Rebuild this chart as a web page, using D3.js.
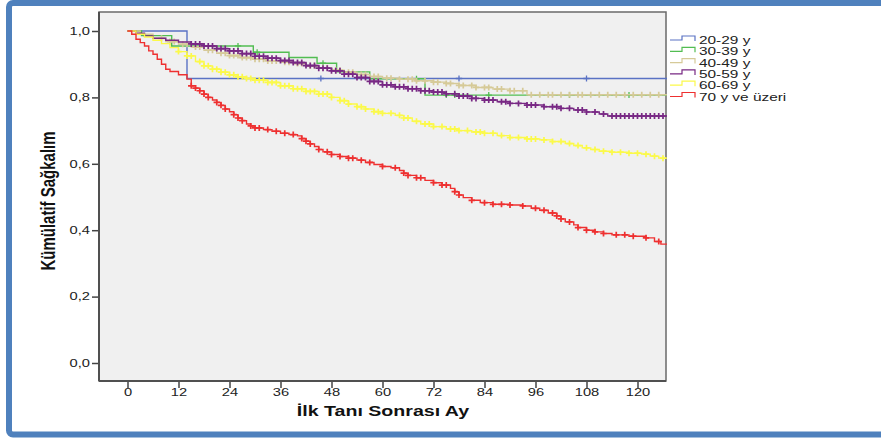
<!DOCTYPE html>
<html><head><meta charset="utf-8">
<script src="https://cdn.jsdelivr.net/npm/d3@7"></script>
<style>
html,body{margin:0;padding:0;background:#fff;}
text{font-family:"Liberation Sans",Arial,sans-serif;fill:#222;}
</style></head>
<body>
<svg id="chart" width="881" height="439"></svg>
<script>
// ---------- DATA ----------
const seriesNames = ["20-29 y","30-39 y","40-49 y","50-59 y","60-69 y","70 y ve üzeri"];
const seriesColors = ["#5a72c4","#52bd52","#d6ca98","#782884","#fbf94a","#ee3030"];
const xTicks = [0,12,24,36,48,60,72,84,96,108,120];
const yTicks = [0,0.2,0.4,0.6,0.8,1.0];
const endTime = 127;

// step knots: time, survival
const t2029 = [0,14];
const s2029 = [1.0,0.857];
const c2029 = [45.5,78,108];

const t3039 = [0,3.3,10.4,29.6,38,44.6,49.2,57,70];
const s3039 = [1.0,0.986,0.955,0.936,0.92,0.903,0.877,0.856,0.807];
const c3039 = [26,30.5,46,68,75,77,85,104,118];

const t4049 = [0,3,6,9,12,15,18,21,24,27,30,33,36,39,42,45,48,51,54,57,60,64,68,72,75,78,82,86,90,94];
const s4049 = [1.0,0.99,0.978,0.968,0.96,0.952,0.942,0.933,0.926,0.92,0.915,0.91,0.906,0.902,0.895,0.889,0.882,0.876,0.869,0.863,0.858,0.855,0.85,0.846,0.842,0.836,0.83,0.825,0.82,0.808];
const c4049 = [8,10,11,13,14,16,17,19,20,22,23,24,25,26,27,28,29,30,31,32,33,34,35,37,38,40,41,43,44,46,47,49,50,52,53,55,56,58,59,61,62,64,66,67,68,70,72,73,75,76,78,79,81,82,84,85,87,88,90,91,93,95,97,99,100,102,104,106,107,109,111,113,115,117,119,121,123,125];

const t5059 = [0,2,4,6,9,12,15,18,21,24,27,30,33,36,39,42,45,48,51,54,57,60,63,66,69,72,75,78,81,84,87,90,94,98,102,105,108,111,113];
const s5059 = [1.0,0.993,0.985,0.978,0.972,0.967,0.961,0.955,0.947,0.94,0.932,0.924,0.918,0.911,0.905,0.896,0.888,0.88,0.87,0.86,0.848,0.838,0.832,0.826,0.82,0.816,0.811,0.804,0.797,0.792,0.787,0.782,0.777,0.772,0.767,0.762,0.756,0.75,0.744];
const c5059 = [15,16,17,18,19,20,21,22,23,24,25,26,27,28,29,30,31,32,33,34,35,36,37,38,39,40,41,42,43,44,45,46,47,48,49,50,51,52,53,54,55,56,57,58,59,60,61,62,63,64,65,66,67,68,69,70,71,72,73,74,75,77,78,79,80,81,82,84,85,86,88,89,90,92,94,95,96,98,100,101,102,104,106,107,108,110,112,114,115,116,117,118,119,120,121,122,123,124,125,126];

const t6069 = [0,2,4,6,8,10,12,14,16,18,20,22,24,26,28,30,33,36,39,42,45,48,50,52,54,56,58,60,63,65,67,69,72,75,78,81,84,87,90,94,97,100,103,105,107,109,111,114,118,121,123,125];
const s6069 = [1.0,0.99,0.982,0.972,0.962,0.95,0.938,0.925,0.908,0.895,0.885,0.876,0.868,0.862,0.857,0.852,0.845,0.835,0.826,0.818,0.81,0.8,0.79,0.78,0.772,0.765,0.757,0.752,0.746,0.738,0.728,0.72,0.712,0.705,0.7,0.696,0.692,0.685,0.679,0.675,0.672,0.667,0.661,0.655,0.648,0.643,0.638,0.635,0.632,0.629,0.623,0.617];
const c6069 = [12,14,15,17,18,19,20,21,22,23,24,25,26,27,28,29,30,31,32,33,34,35,36,37,38,39,40,41,42,43,44,45,46,47,48,50,51,52,54,55,56,58,59,60,62,64,65,66,68,70,71,72,74,76,77,78,80,82,83,84,86,88,90,92,94,95,96,98,100,102,104,106,108,110,112,114,116,118,120,122,124,126];

const t70 = [0,1,2,3,4,5,6,7,8,9,10,12,14,15,16,17,18,19,20,21,22,23,24,25,26,27,28,29,30,32,34,36,38,40,41,42,43,44,45,46,48,50,52,54,56,58,60,62,64,65,66,68,70,72,74,76,77,78,79,81,83,86,90,93,95,97,99,101,102,103,105,106,108,110,112,114,118,122,124,125.5];
const s70 = [1.0,0.99,0.975,0.965,0.955,0.94,0.93,0.915,0.9,0.885,0.878,0.868,0.855,0.835,0.828,0.82,0.81,0.8,0.792,0.785,0.776,0.765,0.757,0.748,0.738,0.73,0.72,0.714,0.708,0.703,0.698,0.692,0.688,0.684,0.676,0.668,0.66,0.652,0.643,0.636,0.628,0.622,0.617,0.611,0.604,0.598,0.592,0.588,0.58,0.572,0.565,0.558,0.55,0.543,0.536,0.526,0.516,0.506,0.498,0.49,0.483,0.478,0.476,0.473,0.466,0.46,0.452,0.443,0.434,0.425,0.416,0.408,0.4,0.395,0.39,0.386,0.382,0.377,0.366,0.358];
const c70 = [15,16,17,18,19,21,22,23,25,26,27,29,30,31,33,35,37,39,41,42,43,45,47,48,50,52,53,55,57,60,63,65,66,68,69,72,74,75,77,78,81,84,86,88,90,93,96,98,100,101,102,104,106,108,110,112,115,117,119,122,125];

const seriesTimes = [t2029,t3039,t4049,t5059,t6069,t70];
const seriesSurv = [s2029,s3039,s4049,s5059,s6069,s70];
const seriesCens = [c2029,c3039,c4049,c5059,c6069,c70];

// ---------- LAYOUT ----------
const svg = d3.select("#chart");
const plot = {left:99, right:666, top:12, bottom:381};
const x = d3.scaleLinear().domain([0,120]).range([127.5,637.5]);
const y = d3.scaleLinear().domain([0,1]).range([363,31]);
const SX = 1.4; // horizontal stretch of the original picture

// outer blue frame
svg.append("rect").attr("x",9).attr("y",3).attr("width",900).attr("height",431.5)
  .attr("rx",4).attr("fill","none").attr("stroke","#4f81bd").attr("stroke-width",6);

// plot background
svg.append("rect").attr("x",plot.left).attr("y",plot.top)
  .attr("width",plot.right-plot.left).attr("height",plot.bottom-plot.top)
  .attr("fill","#f0f0f0").attr("stroke","#6a6a6a").attr("stroke-width",1.5);

// axes
const fmt = d => d3.format(".1f")(d).replace(".",",");
const yAxis = svg.append("g").attr("transform",`translate(${plot.left},0)`)
  .call(d3.axisLeft(y).tickValues(yTicks).tickSize(7).tickFormat(fmt));
yAxis.select(".domain").remove();
yAxis.selectAll(".tick line").attr("stroke","#444").attr("stroke-width",1.5);
yAxis.selectAll(".tick text").attr("x",-9/SX).attr("transform",`scale(${SX},1)`)
  .style("font-size","10.5px").style("fill","#222").style("font-family","'Liberation Sans',Arial,sans-serif");

const xAxis = svg.append("g").attr("transform",`translate(0,${plot.bottom})`)
  .call(d3.axisBottom(x).tickValues(xTicks).tickSize(7).tickFormat(d3.format("d")));
xAxis.select(".domain").remove();
xAxis.selectAll(".tick line").attr("stroke","#444").attr("stroke-width",1.5);
xAxis.selectAll(".tick text").attr("y",8).attr("transform",`scale(${SX},1)`)
  .style("font-size","10.5px").style("fill","#222").style("font-family","'Liberation Sans',Arial,sans-serif");

// left & bottom frame edges darker
svg.append("line").attr("x1",plot.left).attr("x2",plot.left).attr("y1",plot.top).attr("y2",plot.bottom)
  .attr("stroke","#505050").attr("stroke-width",2);
svg.append("line").attr("x1",plot.left).attr("x2",plot.right).attr("y1",plot.bottom).attr("y2",plot.bottom)
  .attr("stroke","#505050").attr("stroke-width",2);

// axis titles
svg.append("text").attr("transform",`translate(383,416) scale(${SX},1)`)
  .attr("text-anchor","middle").style("font-weight","bold").style("font-size","14px")
  .style("fill","#111").text("İlk Tanı Sonrası Ay");
svg.append("text").attr("transform",`translate(55,201) scale(${SX},1) rotate(-90)`)
  .attr("text-anchor","middle").style("font-weight","bold").style("font-size","15px")
  .style("fill","#111").text("Kümülatif Sağkalım");

// curves
svg.append("clipPath").attr("id","clip").append("rect")
  .attr("x",plot.left).attr("y",plot.top).attr("width",plot.right-plot.left+1).attr("height",plot.bottom-plot.top);
const gCurves = svg.append("g").attr("clip-path","url(#clip)");
const line = d3.line().x(d=>x(d[0])).y(d=>y(d[1])).curve(d3.curveStepAfter);

function survAt(times, surv, t){
  let v = surv[0];
  for(let i=0;i<times.length;i++){ if(times[i]<=t) v = surv[i]; }
  return v;
}

seriesNames.forEach((name,i)=>{
  const times = seriesTimes[i], surv = seriesSurv[i];
  const pts = times.map((t,k)=>[t,surv[k]]);
  pts.push([endTime, surv[surv.length-1]]);
  const g = gCurves.append("g");
  g.append("path").attr("d",line(pts)).attr("fill","none")
    .attr("stroke",seriesColors[i]).attr("stroke-width",1.4);
  const dense = i >= 2;
  seriesCens[i].forEach(ct=>{
    const cx = x(ct), cy = y(survAt(times,surv,ct));
    const hw = 3.2, hh = 3;
    g.append("path").attr("d",`M${cx-hw},${cy}H${cx+hw}M${cx},${cy-hh}V${cy+hh}`)
      .attr("stroke",seriesColors[i]).attr("stroke-width",dense?1.7:1.3).attr("fill","none");
  });
});

// legend
const lg = svg.append("g");
seriesNames.forEach((name,i)=>{
  const cy = 40 + i*11.3;
  lg.append("path").attr("d",`M670,${cy}H682V${cy-4}H695V${cy+1}`)
    .attr("fill","none").attr("stroke",seriesColors[i]).attr("stroke-width",1.2);
  lg.append("text").attr("transform",`translate(699,${cy+4}) scale(${SX},1)`)
    .style("font-size","11px").style("fill","#222").text(name);
});
</script>
</body></html>
